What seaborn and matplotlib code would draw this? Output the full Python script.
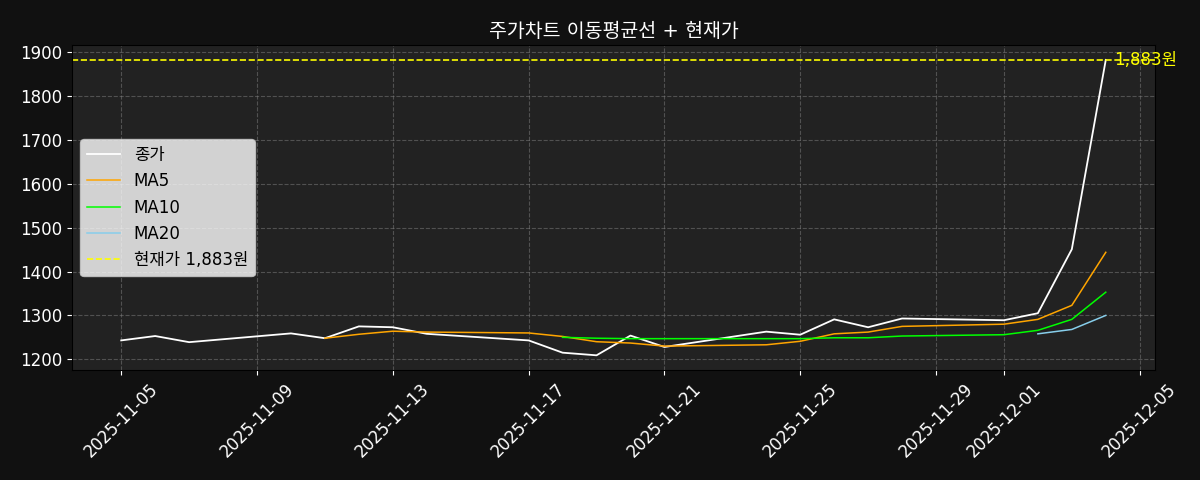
import pandas as pd
import numpy as np
import seaborn as sns
import matplotlib.pyplot as plt
import matplotlib.dates as mdates

nan = np.nan

dates = ["2025-11-05", "2025-11-06", "2025-11-07", "2025-11-10", "2025-11-11",
         "2025-11-12", "2025-11-13", "2025-11-14", "2025-11-17", "2025-11-18",
         "2025-11-19", "2025-11-20", "2025-11-21", "2025-11-24", "2025-11-25",
         "2025-11-26", "2025-11-27", "2025-11-28", "2025-12-01", "2025-12-02",
         "2025-12-03", "2025-12-04"]
close = [1243, 1253, 1239, 1259, 1248, 1275, 1273, 1258, 1243, 1215,
         1209, 1254, 1228, 1263, 1256, 1291, 1273, 1293, 1289, 1305,
         1451, 1883]
ma5 = [nan, nan, nan, nan, 1248, 1257, 1264, 1262, 1260, 1252,
       1240, 1237, 1230, 1233, 1241, 1258, 1262, 1275, 1280, 1291,
       1323, 1444]
ma10 = [nan, nan, nan, nan, nan, nan, nan, nan, nan, 1250,
        1248, 1247, 1247, 1247, 1247, 1249, 1249, 1253, 1256, 1266,
        1291, 1353]
ma20 = [nan] * 19 + [1258, 1268, 1300]
current_price = 1883

title = "주가차트 이동평균선 + 현재가"

df = pd.DataFrame({"date": pd.to_datetime(dates), "close": close,
                   "ma5": ma5, "ma10": ma10, "ma20": ma20})

# DejaVu first for digits/latin, Korean falls back to Noto CJK
plt.rcParams['font.family'] = ['DejaVu Sans', 'Noto Sans CJK KR']

fig, ax = plt.subplots(figsize=(12, 4.8), dpi=100)
fig.patch.set_facecolor('#111111')
ax.set_facecolor('#222222')

sns.lineplot(data=df, x="date", y="close", ax=ax, color="white", linewidth=1.3, label="종가")
sns.lineplot(data=df, x="date", y="ma5", ax=ax, color="orange", linewidth=1.1, label="MA5")
sns.lineplot(data=df, x="date", y="ma10", ax=ax, color="lime", linewidth=1.1, label="MA10")
sns.lineplot(data=df, x="date", y="ma20", ax=ax, color="skyblue", linewidth=1.1, label="MA20")
ax.axhline(current_price, color="yellow", linestyle="--", linewidth=1.2,
           label=f"현재가 {current_price:,}원")
ax.text(df["date"].iloc[-1] + pd.Timedelta(hours=6), current_price, f"{current_price:,}원",
        color="yellow", fontsize=12, va="center", ha="left")

ax.xaxis.set_major_locator(mdates.DayLocator(bymonthday=[1, 5, 9, 13, 17, 21, 25, 29]))
ax.xaxis.set_major_formatter(mdates.DateFormatter('%Y-%m-%d'))
plt.setp(ax.get_xticklabels(), rotation=45)

ax.set_title(title, color="white", fontsize=14)
ax.set_xlabel("")
ax.set_ylabel("")
ax.tick_params(colors="white", labelsize=12)
ax.grid(True, color="gray", linestyle="--", alpha=0.5)
ax.legend(loc="center left", fontsize=12)

fig.subplots_adjust(left=0.06, right=0.9625, top=0.906, bottom=0.229)
plt.savefig("out.png", facecolor=fig.get_facecolor())
